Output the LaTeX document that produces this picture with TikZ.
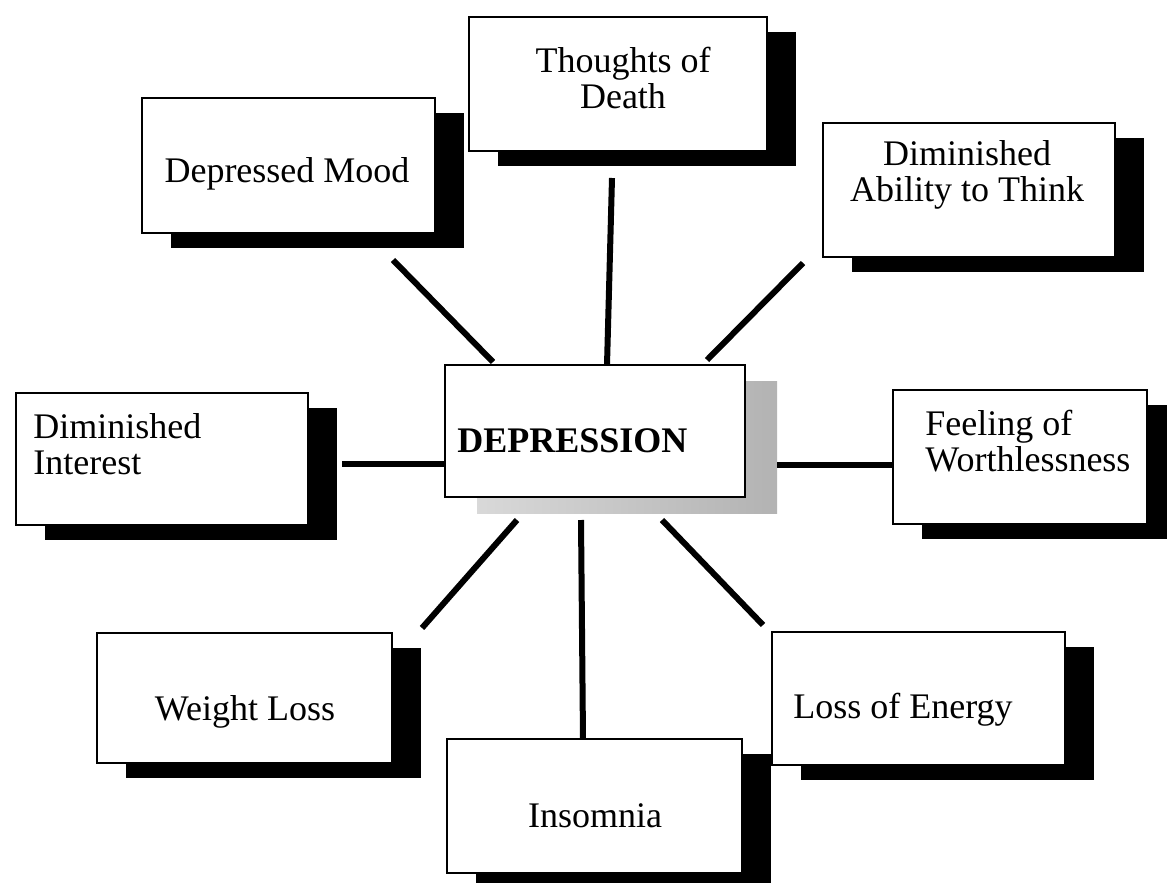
\documentclass[tikz,border=0pt]{standalone}
\usepackage{fontspec}
\setmainfont{Liberation Serif}
\usetikzlibrary{shadows}
\begin{document}
\begin{tikzpicture}[x=0.5pt,y=-0.5pt,
  box/.style={draw=black, line width=1.1pt, fill=white, inner sep=0pt,
    drop shadow={shadow xshift=14.5pt, shadow yshift=-7.5pt, fill=black, opacity=1}},
  cbox/.style={draw=black, line width=1.1pt, fill=white, inner sep=0pt},
  lbl/.style={font=\fontsize{18}{18}\selectfont, inner sep=0pt, align=center},
  llbl/.style={font=\fontsize{18}{18}\selectfont, inner sep=0pt, align=left},
  conn/.style={line width=3pt}]
\fill[white] (0,0) rectangle (1167,883);
\useasboundingbox (0,0) rectangle (1167,883);

% boxes
\node[box, minimum width=149pt, minimum height=67pt] (thoughts) at (618,84) {};
\node[box, minimum width=146.5pt, minimum height=67.5pt] (mood) at (288.5,165.5) {};
\node[box, minimum width=146pt, minimum height=67pt] (ability) at (969,190) {};
\node[box, minimum width=146pt, minimum height=66pt] (interest) at (162,459) {};
\node[box, minimum width=127pt, minimum height=67pt] (feeling) at (1020,457) {};
\node[box, minimum width=147.5pt, minimum height=65pt] (weight) at (244.5,698) {};
\node[box, minimum width=147.5pt, minimum height=67pt] (insomnia) at (594.5,806) {};
\node[box, minimum width=146.5pt, minimum height=66.5pt] (energy) at (918.5,698.5) {};

% central box with grey shadow
\shade[left color=gray!30, right color=gray!60] (477,381) rectangle (777,513);
\node[cbox, minimum width=150pt, minimum height=66pt] (dep) at (595,431) {};

% texts
\node[lbl, anchor=north] (t-thoughts) at (623,47) {Thoughts of\\Death};
\node[lbl, anchor=base] (t-mood) at (287,183) {Depressed Mood};
\node[lbl, anchor=north] (t-ability) at (967,140) {Diminished\\Ability to Think};
\node[llbl, anchor=north west] (t-interest) at (33,413) {Diminished\\Interest};
\node[llbl, anchor=north west] (t-feeling) at (925,410) {Feeling of\\Worthlessness};
\node[lbl, anchor=base] (t-weight) at (245,720) {Weight Loss};
\node[lbl, anchor=base] (t-insomnia) at (595,827) {Insomnia};
\node[lbl, anchor=base] (t-energy) at (903,718) {Loss of Energy};
\node[lbl, anchor=base west, font=\fontsize{18}{18}\selectfont\bfseries] (t-dep) at (457,452) {DEPRESSION};

% connector end points
\coordinate (c1a) at (393,260); \coordinate (c1b) at (493,362);
\coordinate (c2a) at (612,178); \coordinate (c2b) at (607,365);
\coordinate (c3a) at (803,263); \coordinate (c3b) at (707,360);
\coordinate (c4a) at (342,464); \coordinate (c4b) at (445,464);
\coordinate (c5a) at (777,465); \coordinate (c5b) at (893,465);
\coordinate (c6a) at (517,520); \coordinate (c6b) at (422,628);
\coordinate (c7a) at (581,520); \coordinate (c7b) at (583,739);
\coordinate (c8a) at (662,520); \coordinate (c8b) at (763,625);

\draw[conn] (c1a) -- (c1b);
\draw[conn] (c2a) -- (c2b);
\draw[conn] (c3a) -- (c3b);
\draw[conn] (c4a) -- (c4b);
\draw[conn] (c5a) -- (c5b);
\draw[conn] (c6a) -- (c6b);
\draw[conn] (c7a) -- (c7b);
\draw[conn] (c8a) -- (c8b);
\end{tikzpicture}
\end{document}
